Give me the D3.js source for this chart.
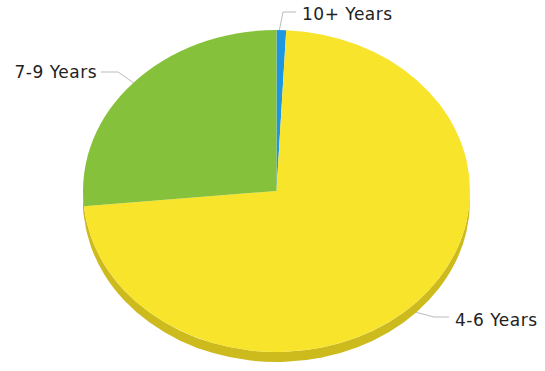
<!DOCTYPE html>
<html><head><meta charset="utf-8">
<script src="https://cdn.jsdelivr.net/npm/d3@7"></script>
<style>html,body{margin:0;padding:0;background:#fff;}svg{display:block;}</style>
</head><body>
<svg id="c" width="545" height="371"></svg>
<script>
const categories = ["10+ Years", "4-6 Years", "7-9 Years"];
const values = [0.8, 72.7, 26.5];
const colors = ["#1E96E2", "#F8E42A", "#86C13B"];
const sideColors = ["#1877B3", "#CDBB1E", "#6A9A2E"];

const svg = d3.select("#c");
const cx = 276.5, cy = 191, rx = 193.5, ry = 161, depth = 10;

const pie = d3.pie().sort(null).value(d => d.v).startAngle(0).endAngle(2 * Math.PI);
const arcs = pie(categories.map((c, i) => ({ c, v: values[i], i })));

const pt = (a, dy = 0) => [cx + rx * Math.sin(a), cy - ry * Math.cos(a) + dy];

// sides (front half: angles pi/2..3pi/2)
const sideG = svg.append("g");
arcs.forEach(d => {
  const a0 = Math.max(d.startAngle, Math.PI / 2), a1 = Math.min(d.endAngle, 3 * Math.PI / 2);
  if (a1 <= a0) return;
  const p0 = pt(a0), p1 = pt(a1), q0 = pt(a0, depth), q1 = pt(a1, depth);
  const large = (a1 - a0) > Math.PI ? 1 : 0;
  const path = `M${p0}A${rx},${ry} 0 ${large} 1 ${p1}L${q1}A${rx},${ry} 0 ${large} 0 ${q0}Z`;
  sideG.append("path").attr("d", path).attr("fill", sideColors[d.data.i]);
});

// top faces
const topG = svg.append("g");
arcs.forEach(d => {
  const p0 = pt(d.startAngle), p1 = pt(d.endAngle);
  const large = (d.endAngle - d.startAngle) > Math.PI ? 1 : 0;
  const path = `M${cx},${cy}L${p0}A${rx},${ry} 0 ${large} 1 ${p1}Z`;
  topG.append("path").attr("d", path).attr("fill", colors[d.data.i]);
});

// labels
const labelSpec = {
  "10+ Years": { pts: d => [pt(d.startAngle + 0.3 * (d.endAngle - d.startAngle)), [283, 12], [296, 12]], tx: 302, ty: 14, anchor: "start" },
  "7-9 Years": { pts: d => [pt((d.startAngle + d.endAngle) / 2), [118, 72], [101, 72]], tx: 97, ty: 72, anchor: "end" },
  "4-6 Years": { pts: d => [pt((d.startAngle + d.endAngle) / 2, depth), [434, 317], [449, 317]], tx: 455, ty: 320, anchor: "start" }
};
const lg = svg.append("g");
arcs.forEach(d => {
  const s = labelSpec[d.data.c];
  lg.append("polyline").attr("points", s.pts(d).map(p => p.join(",")).join(" "))
    .attr("fill", "none").attr("stroke", "#bbbbbb").attr("stroke-width", 1);
  lg.append("text").attr("x", s.tx).attr("y", s.ty).attr("dy", "0.35em")
    .attr("text-anchor", s.anchor)
    .attr("font-family", "DejaVu Sans, Verdana, sans-serif").attr("font-size", 17)
    .attr("letter-spacing", 0.5)
    .attr("fill", "#222").text(d.data.c);
});
</script>
</body></html>
